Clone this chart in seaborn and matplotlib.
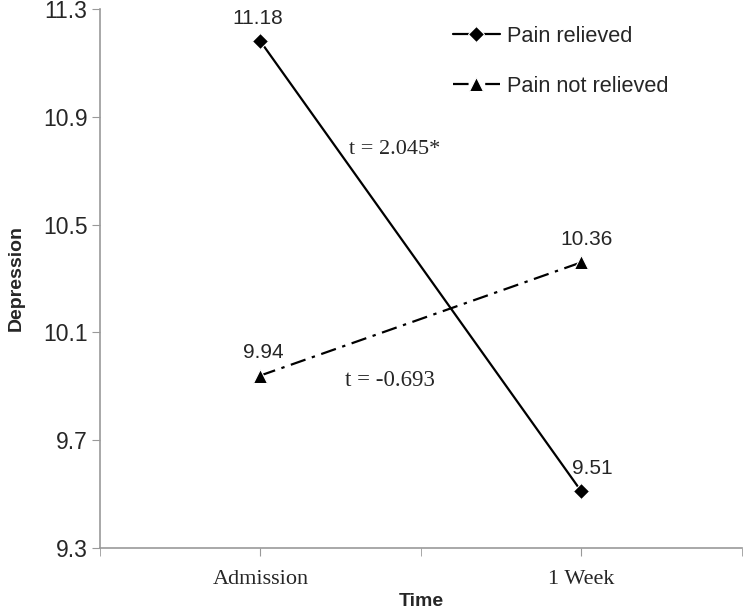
import matplotlib
matplotlib.use("Agg")
import matplotlib.pyplot as plt
import seaborn as sns
import pandas as pd

times = ["Admission", "1 Week"]
relieved = [11.18, 9.51]
not_relieved = [9.94, 10.36]
groups = ["Pain relieved", "Pain not relieved"]
t_labels = ["t = 2.045*", "t = -0.693"]

df = pd.DataFrame({
    "Time": times * 2,
    "Depression": relieved + not_relieved,
    "Group": [groups[0]] * 2 + [groups[1]] * 2,
})

sns.set_style("white")
plt.rcParams["font.family"] = ["Liberation Sans", "DejaVu Sans"]

fig = plt.figure(figsize=(7.44, 6.12), dpi=100)
ax = fig.add_axes([0.1344, 0.1046, 0.8626, 0.8807])

sns.lineplot(data=df, x="Time", y="Depression", style="Group", color="black",
             markers={groups[0]: "D", groups[1]: "^"},
             dashes={groups[0]: "", groups[1]: (7, 3, 1.5, 3)},
             markersize=8, linewidth=1.6, ax=ax)
# triangles look a bit bigger in the original
ax.lines[1].set_markersize(10)

ax.set_xlim(-0.5, 1.5)
ax.set_ylim(9.3, 11.3)
ax.set_yticks([9.3, 9.7, 10.1, 10.5, 10.9, 11.3])
ax.set_yticklabels(["9.3", "9.7", "10.1", "10.5", "10.9", "11.3"], fontsize=16.5)
ax.set_xticks([0, 1])
ax.set_xticklabels(times, fontsize=16, family="Liberation Serif")
ax.set_xticks([-0.5, 0.5, 1.5], minor=True)
ax.tick_params(axis="x", which="both", length=6, color="#999999", direction="out",
               bottom=True, pad=10)
ax.tick_params(axis="y", length=6, color="#999999", direction="out", left=True, pad=3)

for s in ["top", "right"]:
    ax.spines[s].set_visible(False)
for s in ["left", "bottom"]:
    ax.spines[s].set_color("#999999")
    ax.spines[s].set_linewidth(1.2)

ax.set_xlabel("Time", fontsize=14, fontweight="bold", labelpad=3)
ax.set_ylabel("Depression", fontsize=14, fontweight="bold", labelpad=13)

label_dx = [-2, 8, 2, 4]
for i, v in enumerate(relieved + not_relieved):
    ax.annotate(f"{v:.2f}", (i % 2, v), xytext=(label_dx[i], 16.5), textcoords="offset points",
                ha="center", va="center", fontsize=15)

ax.text(0.275, 10.78, t_labels[0], fontsize=16, family="Liberation Serif", va="center")
ax.text(0.262, 9.92, t_labels[1], fontsize=16.5, family="Liberation Serif", va="center")

leg = ax.legend(loc="upper left", bbox_to_anchor=(0.519, 1.005), frameon=False,
                fontsize=15.7, handlelength=2.15, handletextpad=0.32, labelspacing=1.33)
for h in leg.get_lines():
    h.set_markersize(8 if h.get_marker() == "D" else 10)

plt.savefig("out.png", dpi=100)
